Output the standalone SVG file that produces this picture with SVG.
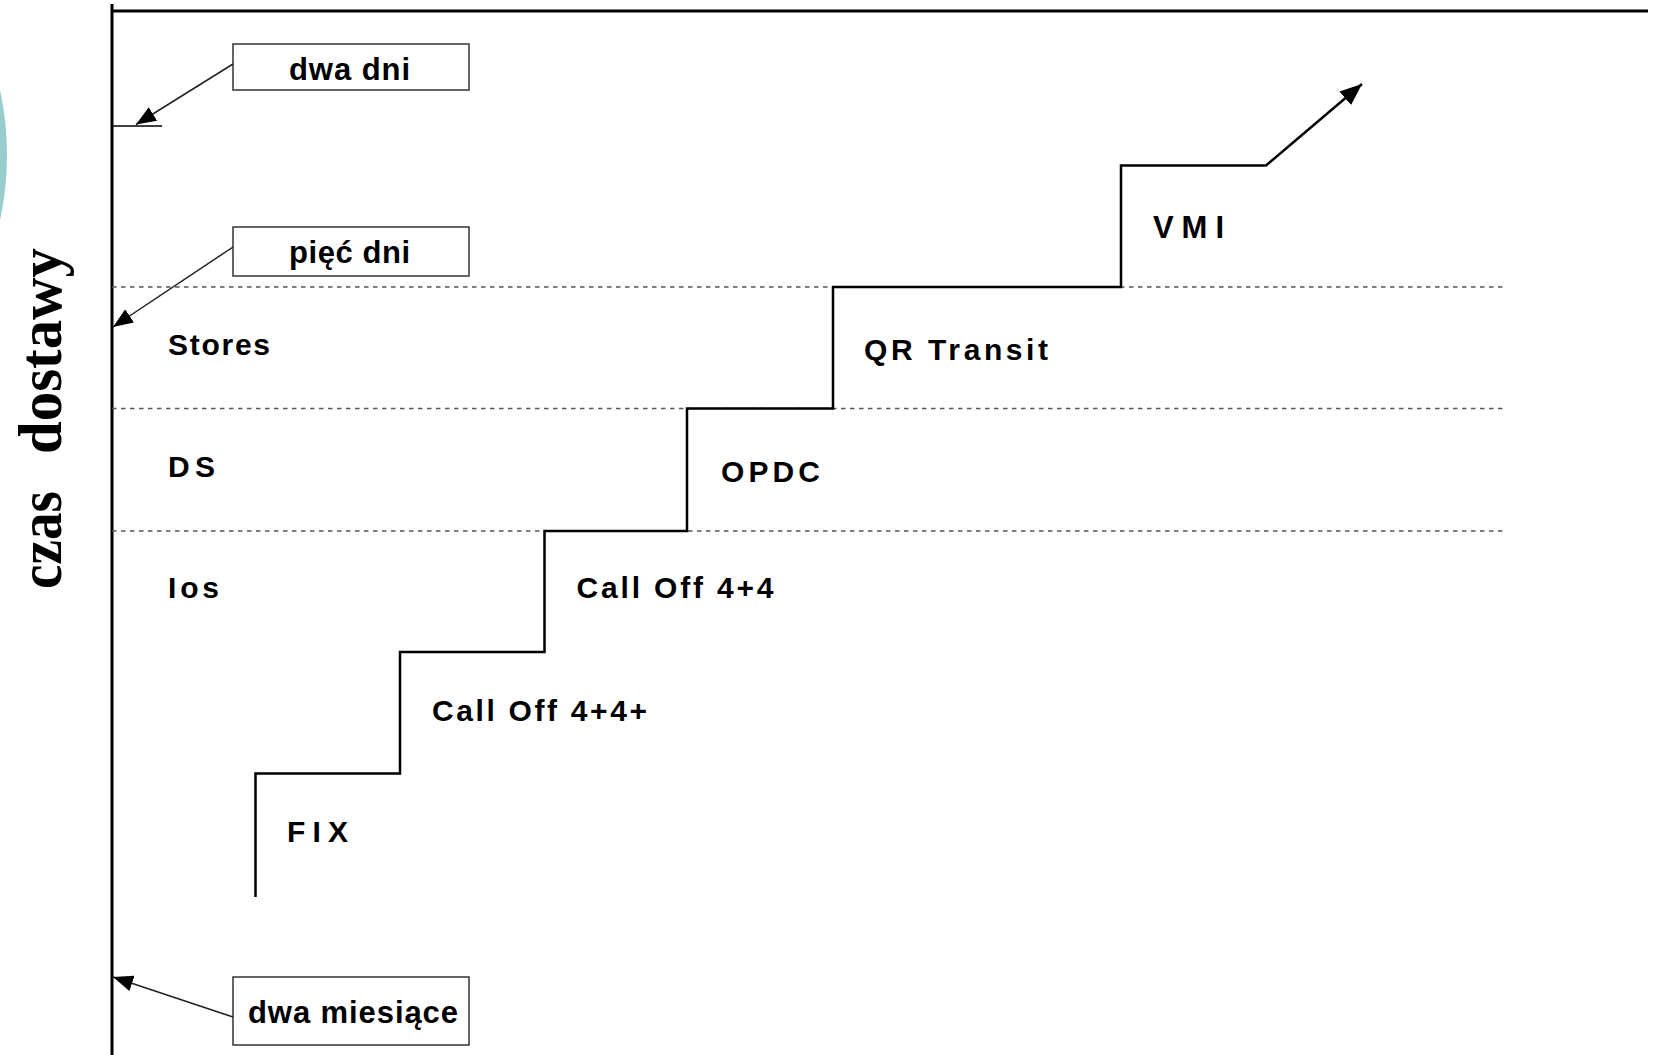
<svg xmlns="http://www.w3.org/2000/svg" width="1655" height="1055" viewBox="0 0 1655 1055">
<style>
.lbl{font-family:"Liberation Sans",Arial,sans-serif;font-weight:bold;font-size:30px;fill:#000}
.box rect{fill:#fff;stroke:#333;stroke-width:1.5}
.box text{font-family:"Liberation Sans",Arial,sans-serif;font-weight:bold;font-size:31px;fill:#000;text-anchor:start}
.dash{stroke:#555;stroke-width:1.5;stroke-dasharray:4.5,4.5;fill:none}
.thin{stroke:#222;stroke-width:1.5;fill:none}
.ttl{font-family:"Liberation Serif","Times New Roman",serif;font-weight:bold;font-size:62px;fill:#000}
</style>
<defs>
<marker id="ah" viewBox="0 0 20 16" refX="20" refY="8" markerWidth="20" markerHeight="16" markerUnits="userSpaceOnUse" orient="auto"><path d="M0,0 L20,8 L0,16 z" fill="#000"/></marker>
<marker id="ah2" viewBox="0 0 22 18" refX="22" refY="9" markerWidth="22" markerHeight="18" markerUnits="userSpaceOnUse" orient="auto"><path d="M0,0 L22,9 L0,18 z" fill="#000"/></marker>
</defs>
<rect width="1655" height="1055" fill="#fff"/>
<circle cx="-298" cy="155" r="305" fill="#99cccc"/>

<g id="axis">
<line x1="112" y1="4" x2="112" y2="1055" stroke="#000" stroke-width="3"/>
<line x1="112" y1="11" x2="1648" y2="11" stroke="#000" stroke-width="3"/>
<line x1="112" y1="126" x2="162" y2="126" stroke="#000" stroke-width="1.5"/>
</g>

<g id="axis-title" transform="translate(61,589) rotate(-90)">
<text class="ttl" x="0" y="0"><tspan x="0" textLength="98" lengthAdjust="spacingAndGlyphs">czas</tspan><tspan x="135" textLength="206" lengthAdjust="spacingAndGlyphs">dostawy</tspan></text>
</g>

<g id="grid">
<line class="dash" x1="112" y1="287" x2="1504" y2="287"/>
<line class="dash" x1="112" y1="408.5" x2="1504" y2="408.5"/>
<line class="dash" x1="112" y1="531" x2="1504" y2="531"/>
</g>

<g id="staircase">
<path d="M255.5,897 V773.5 H400 V652 H544.5 V531 H687 V408.5 H833 V287 H1121 V165.5 H1266 L1362,84" fill="none" stroke="#000" stroke-width="2.5" stroke-linejoin="miter" marker-end="url(#ah2)"/>
</g>

<g id="band-labels">
<text class="lbl" x="168" y="355" textLength="102" lengthAdjust="spacing">Stores</text>
<text class="lbl" x="168" y="477" textLength="47" lengthAdjust="spacing">DS</text>
<text class="lbl" x="168" y="598" textLength="51" lengthAdjust="spacing">Ios</text>
</g>

<g id="step-fix"><text class="lbl" x="287" y="842" textLength="61" lengthAdjust="spacing">FIX</text></g>
<g id="step-calloff-plus"><text class="lbl" x="432" y="721" textLength="215" lengthAdjust="spacing">Call Off 4+4+</text></g>
<g id="step-calloff"><text class="lbl" x="576.5" y="598" textLength="197" lengthAdjust="spacing">Call Off 4+4</text></g>
<g id="step-opdc"><text class="lbl" x="721" y="482" textLength="99" lengthAdjust="spacing">OPDC</text></g>
<g id="step-qr"><text class="lbl" x="864" y="360" textLength="184" lengthAdjust="spacing">QR Transit</text></g>
<g id="step-vmi"><text class="lbl" x="1153" y="238" textLength="71" lengthAdjust="spacing" style="font-size:31px">VMI</text></g>

<g id="box-dwa-dni" class="box">
<rect x="233" y="44" width="236" height="46"/>
<text x="289" y="80" textLength="121" lengthAdjust="spacing">dwa dni</text>
</g>
<g id="box-piec-dni" class="box">
<rect x="233" y="227" width="236" height="49"/>
<text x="289" y="263" textLength="121" lengthAdjust="spacing">pięć dni</text>
</g>
<g id="box-dwa-miesiace" class="box">
<rect x="233" y="977" width="236" height="68"/>
<text x="248" y="1023" textLength="210" lengthAdjust="spacing">dwa miesiące</text>
</g>

<g id="connectors">
<line class="thin" x1="233" y1="64" x2="136" y2="124.5" marker-end="url(#ah)"/>
<line class="thin" x1="233" y1="247" x2="113" y2="327" marker-end="url(#ah)"/>
<line class="thin" x1="233" y1="1017" x2="113" y2="977" marker-end="url(#ah)"/>
</g>
</svg>
